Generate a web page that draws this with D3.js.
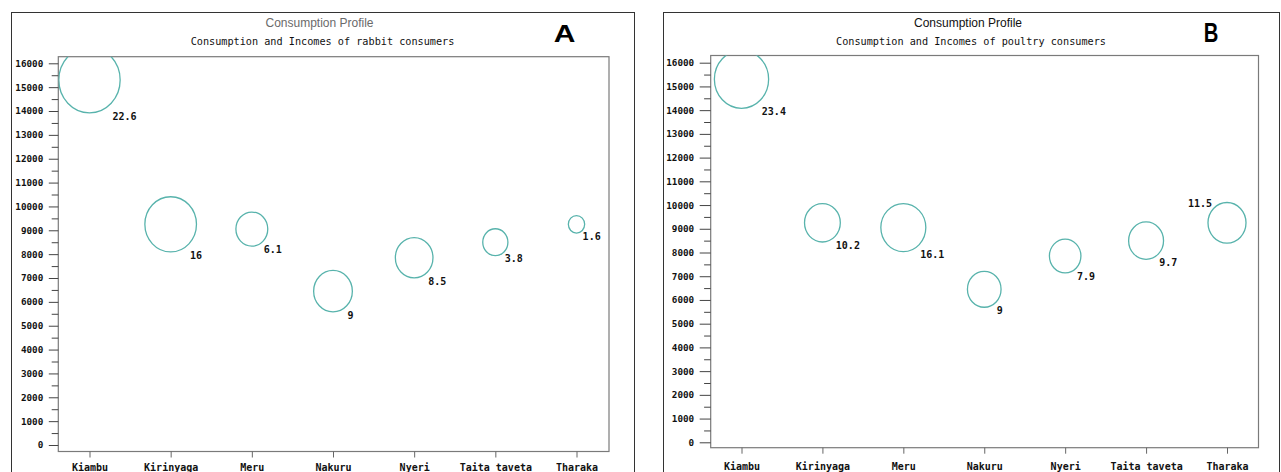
<!DOCTYPE html>
<html>
<head>
<meta charset="utf-8">
<script src="https://cdn.jsdelivr.net/npm/d3@7"></script>
<style>
  html, body { margin: 0; padding: 0; background: #fff; }
  svg { display: block; }
</style>
</head>
<body>
<svg id="chart" width="1281" height="472"></svg>
<script>
// ---------- DATA ----------
const districts = ["Kiambu", "Kirinyaga", "Meru", "Nakuru", "Nyeri", "Taita_taveta", "Tharaka"];
const incomes = [15300, 9250, 9050, 6450, 7850, 8500, 9250];
const rabbitConsumption = [22.6, 16, 6.1, 9, 8.5, 3.8, 1.6];
const poultryConsumption = [23.4, 10.2, 16.1, 9, 7.9, 9.7, 11.5];
const rabbitLabels = ["22.6", "16", "6.1", "9", "8.5", "3.8", "1.6"];
const poultryLabels = ["23.4", "10.2", "16.1", "9", "7.9", "9.7", "11.5"];
const yTickValues = [0, 1000, 2000, 3000, 4000, 5000, 6000, 7000, 8000, 9000, 10000, 11000, 12000, 13000, 14000, 15000, 16000];
const yMinorTickValues = [500, 1500, 2500, 3500, 4500, 5500, 6500, 7500, 8500, 9500, 10500, 11500, 12500, 13500, 14500, 15500];
const mainTitle = "Consumption Profile";
const subTitles = ["Consumption and Incomes of rabbit consumers", "Consumption and Incomes of poultry consumers"];
const panelLetters = ["A", "B"];

// ---------- LAYOUT ----------
const panels = [
  {
    id: "A", values: rabbitConsumption, labels: rabbitLabels, sub: subTitles[0], letter: panelLetters[0],
    frame: { x0: 11, x1: 634, y0: 12 },
    plot: { x0: 58.3, x1: 609, y0: 56.7, y1: 451.5 },
    yRange: [445, 63.3], xRange: [89.5, 576.5],
    rMax: 32.8, aspect: 0.935, majorLen: 9.5, xPad: 6.5,
    titleColor: "#6a6a6a",
    letterX: 564.5, letterSize: 24, letterScaleX: 1.25
  },
  {
    id: "B", values: poultryConsumption, labels: poultryLabels, sub: subTitles[1], letter: panelLetters[1],
    frame: { x0: 663, x1: 1279, y0: 12 },
    plot: { x0: 710.7, x1: 1258.5, y0: 55.5, y1: 447.7 },
    yRange: [442.3, 62.7], xRange: [741.5, 1227],
    rMax: 29.0, aspect: 0.935, majorLen: 11, xPad: 9.5,
    titleColor: "#111",
    letterX: 1211, letterSize: 27, letterScaleX: 0.75
  }
];

const svg = d3.select("#chart");
const mono = "'DejaVu Sans Mono', 'Liberation Mono', monospace";
const sans = "'Liberation Sans', Arial, sans-serif";
const bubbleColor = "#58b3ac";

panels.forEach((p, pi) => {
  const g = svg.append("g");

  // outer frame
  g.append("rect")
    .attr("x", p.frame.x0 + 0.5).attr("y", p.frame.y0 + 0.5)
    .attr("width", p.frame.x1 - p.frame.x0).attr("height", 500)
    .attr("fill", "none").attr("stroke", "#333").attr("stroke-width", 1);

  const cx = (p.frame.x0 + p.frame.x1) / 2;
  g.append("text").text(mainTitle)
    .attr("x", cx - 3).attr("y", 27)
    .attr("text-anchor", "middle")
    .attr("font-family", sans).attr("font-size", 12)
    .attr("fill", p.titleColor);
  g.append("text").text(p.sub)
    .attr("x", cx).attr("y", 44.5)
    .attr("text-anchor", "middle")
    .attr("font-family", mono).attr("font-size", 10.2)
    .attr("fill", "#111");

  g.append("text").text(p.letter)
    .attr("transform", `translate(${p.letterX},42) scale(${p.letterScaleX},1)`)
    .attr("text-anchor", "middle")
    .attr("font-family", sans).attr("font-weight", "bold")
    .attr("font-size", p.letterSize).attr("fill", "#000");

  // scales
  const x = d3.scalePoint().domain(districts).range(p.xRange);
  const y = d3.scaleLinear().domain([0, 16000]).range(p.yRange);
  const r = d3.scaleSqrt().domain([0, d3.max(p.values)]).range([0, p.rMax]);

  // plot rect
  g.append("rect")
    .attr("x", p.plot.x0).attr("y", p.plot.y0)
    .attr("width", p.plot.x1 - p.plot.x0).attr("height", p.plot.y1 - p.plot.y0)
    .attr("fill", "none").attr("stroke", "#7a7a7a").attr("stroke-width", 1.2);

  // y axis
  const yAxis = d3.axisLeft(y).tickValues(yTickValues).tickSize(p.majorLen).tickPadding(5.5)
    .tickFormat(d3.format("d"));
  const ya = g.append("g").attr("transform", `translate(${p.plot.x0},0)`).call(yAxis);
  ya.select(".domain").remove();
  ya.selectAll(".tick line").attr("stroke", "#444");
  ya.selectAll(".tick text")
    .attr("font-family", mono).attr("font-size", 9.3).attr("font-weight", "bold").attr("fill", "#111");
  const yMinor = d3.axisLeft(y).tickValues(yMinorTickValues).tickSize(6.6).tickFormat("");
  const ym = g.append("g").attr("transform", `translate(${p.plot.x0},0)`).call(yMinor);
  ym.select(".domain").remove();
  ym.selectAll(".tick line").attr("stroke", "#444");

  // x axis
  const xAxis = d3.axisBottom(x).tickSize(6).tickPadding(p.xPad);
  const xa = g.append("g").attr("transform", `translate(0,${p.plot.y1})`).call(xAxis);
  xa.select(".domain").remove();
  xa.selectAll(".tick line").attr("stroke", "#666");
  xa.selectAll(".tick text")
    .attr("font-family", mono).attr("font-size", 10).attr("font-weight", "bold").attr("fill", "#111");

  // clip
  const clipId = "clip" + p.id;
  svg.append("clipPath").attr("id", clipId).append("rect")
    .attr("x", p.plot.x0).attr("y", p.plot.y0)
    .attr("width", p.plot.x1 - p.plot.x0).attr("height", p.plot.y1 - p.plot.y0);

  const data = districts.map((d, i) => ({ d, inc: incomes[i], v: p.values[i], lab: p.labels[i] }));

  g.append("g").attr("clip-path", `url(#${clipId})`)
    .selectAll("ellipse").data(data).join("ellipse")
    .attr("cx", d => x(d.d)).attr("cy", d => y(d.inc))
    .attr("rx", d => r(d.v) * p.aspect).attr("ry", d => r(d.v))
    .attr("fill", "none").attr("stroke", bubbleColor).attr("stroke-width", 1.3);

  g.selectAll("text.blab").data(data).join("text").attr("class", "blab")
    .text(d => d.lab)
    .each(function(d) {
      const rx = r(d.v) * p.aspect, ry = r(d.v);
      const px = x(d.d), py = y(d.inc);
      const w = d.lab.length * 6.02;
      const sel = d3.select(this);
      if (px + 0.75 * rx + w > p.plot.x1) {
        sel.attr("x", px - 0.79 * rx).attr("y", py - ry + 4.3).attr("text-anchor", "end");
      } else {
        sel.attr("x", px + 0.75 * rx).attr("y", py + ry + 6.8).attr("text-anchor", "start");
      }
    })
    .attr("font-family", mono).attr("font-size", 10).attr("font-weight", "bold").attr("fill", "#111");
});
</script>
</body>
</html>
